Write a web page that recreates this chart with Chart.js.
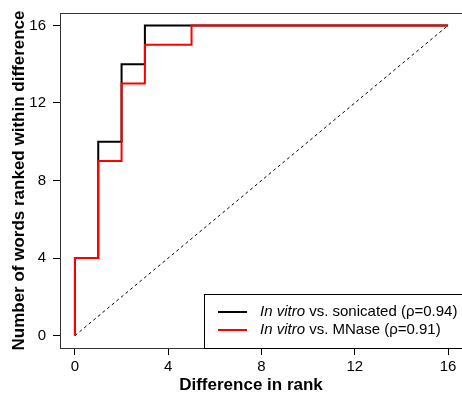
<!DOCTYPE html>
<html>
<head>
<meta charset="utf-8">
<script src="https://cdn.jsdelivr.net/npm/chart.js@4"></script>
<style>
  html, body { margin: 0; padding: 0; background: #fff; overflow: hidden; }
  #wrap { width: 470px; height: 394px; }
</style>
</head>
<body>
<div id="wrap"><canvas id="grafico" width="470" height="394"></canvas></div>
<script>
// diferenca de rank (0..16) e numero acumulado de palavras
const difRank = [0, 1, 2, 3, 4, 5, 6, 7, 8, 9, 10, 11, 12, 13, 14, 15, 16];
const sonicado = [4, 10, 14, 16, 16, 16, 16, 16, 16, 16, 16, 16, 16, 16, 16, 16, 16];
const mnase    = [4, 9, 13, 15, 15, 16, 16, 16, 16, 16, 16, 16, 16, 16, 16, 16, 16];
const diagonal = [0, 16];
const ticksEixo = [0, 4, 8, 12, 16];
const rotulos = [
  { italico: 'In vitro', resto: ' vs. sonicated (\u03C1=0.94)', cor: '#000000' },
  { italico: 'In vitro', resto: ' vs. MNase (\u03C1=0.91)', cor: '#ff0000' }
];

const FONTE = '"Liberation Sans", Arial, sans-serif';

// curva em degrau comecando na origem
function degrau(valores) {
  const pts = [{ x: difRank[0], y: 0 }];
  for (let i = 0; i < difRank.length; i++) pts.push({ x: difRank[i], y: valores[i] });
  return pts;
}

// caixa do grafico, titulos dos eixos e legenda
const extras = {
  id: 'extras',
  afterDraw(chart) {
    const ctx = chart.ctx;
    const a = chart.chartArea;
    ctx.save();
    ctx.strokeStyle = '#333';
    ctx.lineWidth = 1;
    ctx.strokeRect(Math.round(a.left) + 0.5, Math.round(a.top) + 0.5,
                   Math.round(a.right - a.left), Math.round(a.bottom - a.top));

    ctx.fillStyle = '#000';
    ctx.font = 'bold 17px ' + FONTE;
    ctx.textAlign = 'center';
    ctx.textBaseline = 'alphabetic';
    ctx.fillText('Difference in rank', 251, 390);

    ctx.save();
    ctx.translate(24, (a.top + a.bottom) / 2);
    ctx.rotate(-Math.PI / 2);
    ctx.fillText('Number of words ranked within difference', 0, 0);
    ctx.restore();

    // legenda no canto inferior direito
    const lx = a.right - 259, ly = a.bottom - 54;
    ctx.fillStyle = '#fff';
    ctx.fillRect(lx, ly, a.right - lx, a.bottom - ly);
    ctx.strokeStyle = '#000';
    ctx.strokeRect(Math.round(lx) + 0.5, Math.round(ly) + 0.5, a.right - lx + 5, a.bottom - ly);
    ctx.textAlign = 'left';
    ctx.textBaseline = 'middle';
    rotulos.forEach((r, i) => {
      const y = ly + 18 + i * 18;
      ctx.strokeStyle = r.cor;
      ctx.lineWidth = 2;
      ctx.beginPath();
      ctx.moveTo(lx + 14, y);
      ctx.lineTo(lx + 43, y);
      ctx.stroke();
      ctx.fillStyle = '#000';
      ctx.font = 'italic 15px ' + FONTE;
      ctx.fillText(r.italico, lx + 56, y);
      const w = ctx.measureText(r.italico).width;
      ctx.font = '15px ' + FONTE;
      ctx.fillText(r.resto, lx + 56 + w, y);
    });
    ctx.restore();
  }
};

new Chart(document.getElementById('grafico').getContext('2d'), {
  type: 'line',
  data: {
    datasets: [
      {
        label: 'MNase',
        data: degrau(mnase),
        borderColor: '#ff0000',
        borderWidth: 2,
        stepped: 'before',
        pointRadius: 0,
        order: 0
      },
      {
        label: 'sonicated',
        data: degrau(sonicado),
        borderColor: '#000000',
        borderWidth: 2,
        stepped: 'before',
        pointRadius: 0,
        order: 1
      },
      {
        label: 'diagonal',
        data: diagonal.map(v => ({ x: v, y: v })),
        borderColor: '#000000',
        borderWidth: 1,
        borderDash: [3, 3],
        pointRadius: 0,
        order: 2
      }
    ]
  },
  options: {
    responsive: false,
    animation: false,
    devicePixelRatio: 1,
    layout: { padding: { top: 13, right: 7, left: 0, bottom: 0 } },
    plugins: { legend: { display: false }, tooltip: { enabled: false } },
    scales: {
      x: {
        type: 'linear',
        min: -0.64,
        max: 16.64,
        afterBuildTicks: (s) => { s.ticks = ticksEixo.map(v => ({ value: v })); },
        afterFit: (s) => { s.height = 46; s.paddingLeft = 0; s.paddingRight = 0; },
        border: { display: false },
        grid: { drawOnChartArea: false, drawTicks: true, tickLength: 7, color: '#000' },
        ticks: { color: '#000', font: { family: FONTE, size: 15 }, padding: 3, maxRotation: 0 }
      },
      y: {
        type: 'linear',
        min: -0.64,
        max: 16.64,
        afterBuildTicks: (s) => { s.ticks = ticksEixo.map(v => ({ value: v })); },
        afterFit: (s) => { s.width = 60; s.paddingTop = 0; s.paddingBottom = 0; },
        border: { display: false },
        grid: { drawOnChartArea: false, drawTicks: true, tickLength: 7, color: '#000' },
        ticks: { color: '#000', font: { family: FONTE, size: 15 }, padding: 7 }
      }
    }
  },
  plugins: [extras]
});
</script>
</body>
</html>
